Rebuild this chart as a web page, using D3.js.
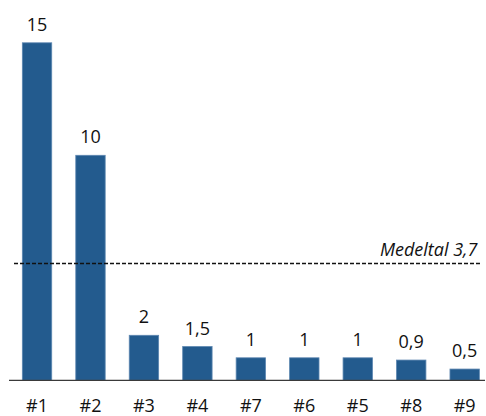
<!DOCTYPE html>
<html>
<head>
<meta charset="utf-8">
<script src="https://cdn.jsdelivr.net/npm/d3@7/dist/d3.min.js"></script>
<style>
  html, body { margin: 0; padding: 0; background: #fff; }
  svg { display: block; }
  text { font-family: "Open Sans", "Noto Sans", sans-serif; fill: #111; }
</style>
</head>
<body>
<svg id="chart" width="486" height="416"></svg>
<script>
// Data
const categories = ["#1", "#2", "#3", "#4", "#7", "#6", "#5", "#8", "#9"];
const values = [15, 10, 2, 1.5, 1, 1, 1, 0.9, 0.5];
const valueLabels = ["15", "10", "2", "1,5", "1", "1", "1", "0,9", "0,5"];
const meanValue = 3.7;
const meanLabel = "Medeltal 3,7";

const svg = d3.select("#chart");
const baseY = 380.3, topY = 20.3;

const x = d3.scaleBand()
  .domain(categories)
  .range([10.3, 491.4])
  .paddingInner(0.45)
  .paddingOuter(0.225);

// primary value axis for the bars
const y = d3.scaleLinear().domain([0, 16]).range([baseY, topY]);
// secondary axis used by the average line
const yMean = d3.scaleLinear().domain([0, 11.4]).range([baseY, topY]);

// bars
svg.append("g").selectAll("rect")
  .data(values)
  .join("rect")
  .attr("x", (d, i) => x(categories[i]))
  .attr("width", x.bandwidth())
  .attr("y", d => y(d))
  .attr("height", d => baseY - y(d))
  .attr("fill", "#235b8e")
  .attr("stroke", "#5d87b1")
  .attr("stroke-width", 0.8);

// value labels
svg.append("g").selectAll("text")
  .data(values)
  .join("text")
  .attr("x", (d, i) => x(categories[i]) + x.bandwidth() / 2)
  .attr("y", d => y(d) - 12)
  .attr("text-anchor", "middle")
  .attr("font-size", 18)
  .text((d, i) => valueLabels[i]);

// category axis
const xAxis = d3.axisBottom(x).tickSize(0).tickPadding(0);
const gx = svg.append("g").attr("transform", `translate(0,${baseY})`).call(xAxis);
gx.select(".domain").remove();
gx.selectAll("text")
  .attr("y", 32.2)
  .attr("dy", null)
  .attr("font-size", 18)
  .attr("fill", "#111")
  .style("font-family", "\"Open Sans\", \"Noto Sans\", sans-serif");
svg.append("line")
  .attr("x1", 9).attr("x2", 485)
  .attr("y1", baseY).attr("y2", baseY)
  .attr("stroke", "#3a3a3a").attr("stroke-width", 1.2);

// average line
svg.append("line")
  .attr("x1", 14).attr("x2", 482)
  .attr("y1", yMean(meanValue)).attr("y2", yMean(meanValue))
  .attr("stroke", "#111").attr("stroke-width", 1.4)
  .attr("stroke-dasharray", "4,2");

svg.append("text")
  .attr("x", 477.5)
  .attr("y", yMean(meanValue) - 7)
  .attr("text-anchor", "end")
  .attr("font-size", 18)
  .attr("font-style", "italic")
  .text(meanLabel);
</script>
</body>
</html>
